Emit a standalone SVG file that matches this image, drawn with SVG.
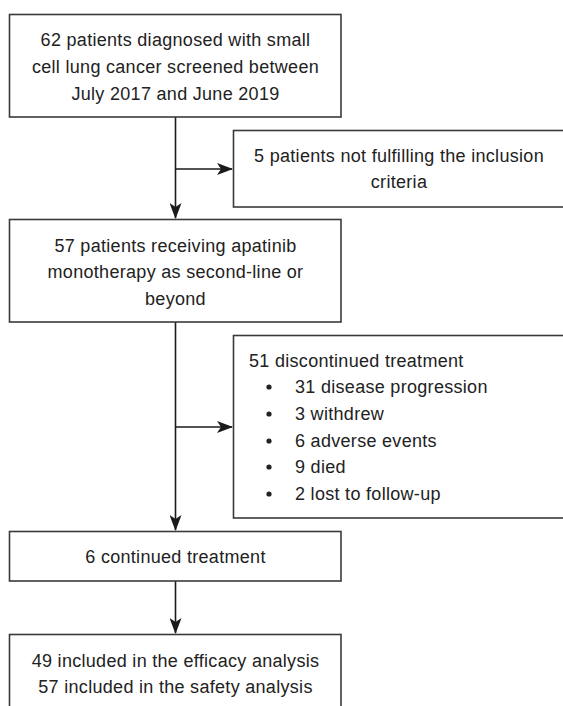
<svg xmlns="http://www.w3.org/2000/svg" width="563" height="706" viewBox="0 0 563 706">
<style>
  .box { fill: #ffffff; stroke: #3a3a3a; stroke-width: 1.6; }
  .t { font-family: "Liberation Sans", Arial, Helvetica, sans-serif; font-size: 18px; letter-spacing: 0.3px; fill: #222222; }
  .c { text-anchor: middle; }
  .line { fill: none; stroke: #1a1a1a; stroke-width: 1.6; }
</style>
<defs>
  <marker id="arr" viewBox="0 0 16 12" refX="15" refY="6" markerWidth="16" markerHeight="12" markerUnits="userSpaceOnUse" orient="auto">
    <path d="M0,0 L16,6 L0,12 L4,6 z" fill="#1a1a1a"/>
  </marker>
</defs>
<rect width="563" height="706" fill="#ffffff"/>

<g id="connectors">
  <line class="line" x1="175.5" y1="117" x2="175.5" y2="218" marker-end="url(#arr)"/>
  <line class="line" x1="175.5" y1="169" x2="232" y2="169" marker-end="url(#arr)"/>
  <line class="line" x1="175.5" y1="322" x2="175.5" y2="530" marker-end="url(#arr)"/>
  <line class="line" x1="175.5" y1="427" x2="232" y2="427" marker-end="url(#arr)"/>
  <line class="line" x1="175.5" y1="581" x2="175.5" y2="633" marker-end="url(#arr)"/>
</g>

<g id="screened">
  <rect class="box" x="9.5" y="14.5" width="331.5" height="102.5"/>
  <text class="t c" x="175.5" y="46">62 patients diagnosed with small</text>
  <text class="t c" x="175.5" y="73">cell lung cancer screened between</text>
  <text class="t c" x="175.5" y="100">July 2017 and June 2019</text>
</g>

<g id="excluded">
  <rect class="box" x="233.5" y="130.5" width="340" height="76.5"/>
  <text class="t c" x="399" y="162">5 patients not fulfilling the inclusion</text>
  <text class="t c" x="399" y="188">criteria</text>
</g>

<g id="receiving">
  <rect class="box" x="9.5" y="219.5" width="331.5" height="102.5"/>
  <text class="t c" x="175.5" y="252">57 patients receiving apatinib</text>
  <text class="t c" x="175.5" y="278">monotherapy as second-line or</text>
  <text class="t c" x="175.5" y="305">beyond</text>
</g>

<g id="discontinued">
  <rect class="box" x="233.5" y="335.5" width="340" height="182.5"/>
  <text class="t" x="249" y="367">51 discontinued treatment</text>
  <g fill="#222222">
    <circle cx="269" cy="387" r="2.6"/>
    <circle cx="269" cy="414" r="2.6"/>
    <circle cx="269" cy="441" r="2.6"/>
    <circle cx="269" cy="467" r="2.6"/>
    <circle cx="269" cy="494" r="2.6"/>
  </g>
  <text class="t" x="295" y="393">31 disease progression</text>
  <text class="t" x="295" y="420">3 withdrew</text>
  <text class="t" x="295" y="447">6 adverse events</text>
  <text class="t" x="295" y="473">9 died</text>
  <text class="t" x="295" y="500">2 lost to follow-up</text>
</g>

<g id="continued">
  <rect class="box" x="9.5" y="531.5" width="331.5" height="49.5"/>
  <text class="t c" x="175.5" y="563">6 continued treatment</text>
</g>

<g id="analysis">
  <rect class="box" x="9.5" y="634.5" width="331.5" height="90"/>
  <text class="t c" x="175.5" y="667">49 included in the efficacy analysis</text>
  <text class="t c" x="175.5" y="693">57 included in the safety analysis</text>
</g>
</svg>
